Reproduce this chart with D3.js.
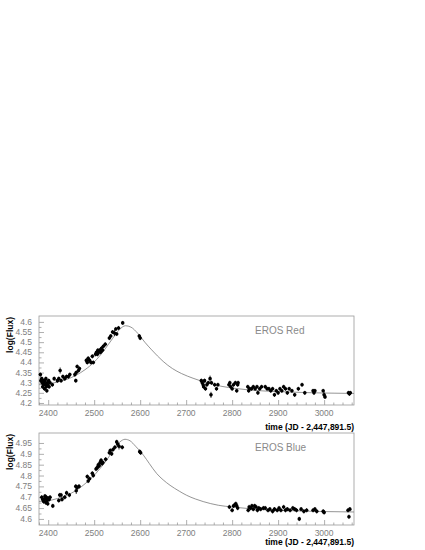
<!DOCTYPE html>
<html>
<head>
<meta charset="utf-8">
<script src="https://cdn.jsdelivr.net/npm/d3@7"></script>
<style>
  body { margin: 0; background: #fff; }
  svg { display: block; font-family: "Liberation Sans", Arial, sans-serif; }
</style>
</head>
<body>
<script>
const w = 425;
const h = 550;

// ---- data ----
const redTime = [2383,2384,2386,2387,2388,2389,2390,2391,2392,2393,2394,2395,2396,2397,2398,2399,2401,2402,2404,2409,2413,
  2420,2423,2426,2428,2432,2436,2440,2444,2447,2458,2460,2461,2463,2466,2468,
  2483,2485,2487,2490,2493,2496,2498,2503,2505,2507,2508,2510,2512,2514,2516,2518,2520,2524,
  2533,2536,2540,2544,2547,2549,2553,2562,2598,2600,
  2733,2735,2737,2738,2740,2742,2745,2748,2752,2754,2755,2762,2766,2769,
  2793,2795,2797,2800,2803,2807,2810,2812,2813,
  2834,2836,2838,2842,2846,2850,2854,2856,2860,2864,2872,2876,2880,2884,2888,2892,2896,2900,2904,2908,2912,2916,2920,2924,2930,2936,2944,2952,2958,
  2976,2978,2980,2998,3000,3002,3053,3055,3057];
const redFlux = [4.34,4.31,4.32,4.30,4.28,4.31,4.29,4.30,4.27,4.31,4.29,4.32,4.28,4.26,4.30,4.29,4.31,4.28,4.30,4.29,4.32,
  4.31,4.32,4.36,4.31,4.33,4.32,4.33,4.33,4.34,4.34,4.31,4.35,4.38,4.36,4.37,
  4.41,4.40,4.42,4.41,4.40,4.43,4.40,4.44,4.45,4.44,4.46,4.45,4.46,4.45,4.47,4.46,4.48,4.49,
  4.52,4.53,4.55,4.545,4.565,4.54,4.57,4.595,4.53,4.52,
  4.31,4.30,4.29,4.28,4.31,4.27,4.29,4.30,4.32,4.24,4.30,4.29,4.27,4.29,
  4.29,4.30,4.28,4.27,4.29,4.30,4.26,4.29,4.30,
  4.28,4.26,4.27,4.27,4.28,4.27,4.28,4.25,4.27,4.28,4.28,4.27,4.27,4.26,4.27,4.24,4.26,4.25,4.27,4.26,4.28,4.27,4.25,4.27,4.26,4.24,4.27,4.29,4.25,
  4.26,4.25,4.26,4.26,4.24,4.23,4.25,4.245,4.25];
const redErr = [0.01,0.01,0.01,0.01,0.01,0.01,0.01,0.01,0.01,0.01,0.015,0.01,0.01,0.01,0.01,0.01,0.01,0.01,0.01,0.01,0.01,
  0.01,0.01,0.015,0.01,0.01,0.01,0.01,0.01,0.01,0.01,0.01,0.01,0.01,0.01,0.01,
  0.01,0.01,0.01,0.01,0.01,0.01,0.01,0.01,0.01,0.01,0.01,0.01,0.01,0.01,0.01,0.01,0.01,0.01,
  0.01,0.01,0.01,0.015,0.01,0.01,0.01,0.01,0.01,0.01,
  0.01,0.01,0.01,0.01,0.01,0.01,0.01,0.01,0.015,0.015,0.01,0.01,0.01,0.01,
  0.01,0.01,0.01,0.01,0.01,0.01,0.01,0.01,0.01,
  0.01,0.01,0.01,0.01,0.01,0.01,0.01,0.01,0.01,0.01,0.01,0.01,0.01,0.01,0.01,0.01,0.01,0.01,0.01,0.01,0.01,0.01,0.01,0.01,0.01,0.01,0.01,0.01,0.01,
  0.01,0.01,0.01,0.01,0.015,0.01,0.01,0.01,0.01];

const blueTime = [2386,2388,2390,2392,2393,2395,2396,2397,2398,2399,2400,2402,2404,2410,
  2423,2425,2428,2430,2436,2440,2446,2460,2461,2463,2467,
  2485,2487,2490,2496,2498,2504,2506,2508,2509,2511,2513,2515,2517,2519,2525,
  2533,2535,2538,2541,2545,2549,2551,2554,2561,2599,2601,
  2794,2800,2803,2806,2808,2810,2812,2835,2837,2840,2843,2846,2849,2852,2855,2858,2862,2868,2872,2878,2882,2888,
  2892,2898,2902,2906,2912,2916,2920,2926,2932,2936,2940,2946,2950,2956,2962,2976,2980,2984,2998,3000,3052,3054,3056];
const blueFlux = [4.70,4.69,4.68,4.69,4.705,4.675,4.70,4.68,4.69,4.67,4.695,4.69,4.70,4.66,
  4.685,4.71,4.71,4.69,4.70,4.72,4.71,4.75,4.73,4.745,4.75,
  4.795,4.775,4.785,4.81,4.80,4.83,4.835,4.84,4.85,4.845,4.86,4.87,4.855,4.86,4.875,
  4.905,4.915,4.90,4.92,4.93,4.955,4.945,4.935,4.93,4.91,4.905,
  4.655,4.64,4.66,4.665,4.67,4.66,4.65,4.64,4.655,4.65,4.66,4.645,4.66,4.655,4.64,4.65,4.645,4.65,4.65,4.64,4.645,4.635,
  4.645,4.64,4.65,4.64,4.655,4.64,4.645,4.64,4.65,4.645,4.64,4.60,4.645,4.635,4.64,4.64,4.645,4.635,4.635,4.63,4.64,4.61,4.645];
const blueErr = [0.01,0.01,0.01,0.01,0.01,0.01,0.01,0.01,0.01,0.01,0.01,0.01,0.01,0.01,
  0.01,0.01,0.01,0.01,0.01,0.01,0.01,0.01,0.015,0.01,0.01,
  0.01,0.01,0.01,0.01,0.01,0.01,0.01,0.01,0.01,0.01,0.01,0.01,0.01,0.01,0.01,
  0.01,0.01,0.01,0.01,0.01,0.01,0.01,0.015,0.01,0.01,0.01,
  0.01,0.01,0.01,0.01,0.01,0.01,0.01,0.01,0.01,0.01,0.01,0.01,0.01,0.01,0.01,0.01,0.01,0.01,0.01,0.01,0.01,0.01,
  0.01,0.01,0.01,0.01,0.01,0.01,0.01,0.01,0.01,0.01,0.01,0.01,0.01,0.01,0.01,0.01,0.01,0.01,0.01,0.01,0.01,0.01,0.01];

// fitted light curves
const redFitTime = [2380,2400,2420,2440,2460,2480,2500,2520,2540,2555,2568,2580,2595,2610,2625,2650,2670,2690,2715,2745,2775,2810,2850,2900,2950,3000,3065];
const redFitFlux = [4.290,4.294,4.303,4.316,4.336,4.364,4.402,4.455,4.518,4.562,4.581,4.574,4.543,4.500,4.462,4.405,4.370,4.345,4.322,4.300,4.283,4.271,4.262,4.256,4.252,4.249,4.247];
const blueFitTime = [2380,2397,2420,2440,2460,2476,2495,2513,2530,2541,2556,2567,2578,2590,2607,2620,2636,2650,2665,2685,2701,2720,2737,2770,2800,2839,2900,2960,3000,3065];
const blueFitFlux = [4.681,4.683,4.694,4.709,4.730,4.755,4.790,4.833,4.880,4.915,4.955,4.967,4.960,4.935,4.894,4.855,4.809,4.780,4.755,4.728,4.709,4.692,4.680,4.663,4.655,4.647,4.640,4.636,4.634,4.632];

const timeTicks = [2400, 2500, 2600, 2700, 2800, 2900, 3000];
const redTicks = [4.2, 4.25, 4.3, 4.35, 4.4, 4.45, 4.5, 4.55, 4.6];
const blueTicks = [4.6, 4.65, 4.7, 4.75, 4.8, 4.85, 4.9, 4.95];

const svg = d3.select("body")
              .append("svg")
              .attr("width", w)
              .attr("height", h);

const left = 39, right = 354;

const xScale = d3.scaleLinear()
                 .domain([2380, 3065])
                 .range([left, right]);

function panel(o) {
    const yScale = d3.scaleLinear()
                     .domain(o.yDomain)
                     .range([o.bottom, o.top]);
    const g = svg.append("g");

    // frame
    g.append("rect")
     .attr("x", left).attr("y", o.top)
     .attr("width", right - left).attr("height", o.bottom - o.top)
     .attr("fill", "none").attr("stroke", "#9a9a9a").attr("stroke-width", 0.8);

    // x ticks: major every 100, minor every 20
    const xMinor = d3.range(2380, 3066, 20).filter(t => t % 100 !== 0);
    const xAxis = d3.axisTop(xScale).tickValues(timeTicks).tickSize(5).tickFormat("");
    g.append("g").attr("transform", "translate(0," + o.bottom + ")").call(xAxis);
    g.append("g").attr("transform", "translate(0," + o.bottom + ")")
     .call(d3.axisTop(xScale).tickValues(xMinor).tickSize(2.5).tickFormat(""));

    g.selectAll(".xlab")
     .data(timeTicks)
     .enter()
     .append("text")
     .attr("x", d => xScale(d))
     .attr("y", o.bottom + 11)
     .attr("text-anchor", "middle")
     .attr("font-size", 8.5)
     .attr("fill", "#808080")
     .text(d => d);

    // y ticks
    const yMinor = o.ticks.slice(0, -1).map((t, i) => (t + o.ticks[i + 1]) / 2);
    g.append("g").attr("transform", "translate(" + left + ",0)")
     .call(d3.axisRight(yScale).tickValues(o.ticks).tickSize(5).tickFormat(""));
    g.append("g").attr("transform", "translate(" + left + ",0)")
     .call(d3.axisRight(yScale).tickValues(yMinor).tickSize(2.5).tickFormat(""));

    g.selectAll(".ylab")
     .data(o.ticks)
     .enter()
     .append("text")
     .attr("x", 32)
     .attr("y", d => yScale(d) + 3)
     .attr("text-anchor", "end")
     .attr("font-size", 8.5)
     .attr("fill", "#808080")
     .text(d => d);

    g.selectAll(".domain").remove();
    g.selectAll(".tick line").attr("stroke", "#9a9a9a").attr("stroke-width", 0.8);

    // fit curve
    const line = d3.line()
                   .x(d => xScale(d[0]))
                   .y(d => yScale(d[1]))
                   .curve(d3.curveMonotoneX);
    g.append("path")
     .datum(o.fitT.map((t, i) => [t, o.fitF[i]]))
     .attr("d", line)
     .attr("fill", "none")
     .attr("stroke", "#7a7a7a")
     .attr("stroke-width", 0.8);

    // data with error bars
    const pts = o.t.map((t, i) => ({t: t, f: o.f[i], e: o.e[i]}));
    g.selectAll(".err")
     .data(pts)
     .enter()
     .append("line")
     .attr("x1", d => xScale(d.t)).attr("x2", d => xScale(d.t))
     .attr("y1", d => yScale(d.f - d.e)).attr("y2", d => yScale(d.f + d.e))
     .attr("stroke", "#000").attr("stroke-width", 0.8);
    g.selectAll(".pt")
     .data(pts)
     .enter()
     .append("circle")
     .attr("cx", d => xScale(d.t))
     .attr("cy", d => yScale(d.f))
     .attr("r", 1.8)
     .attr("fill", "#000");

    // labels
    g.append("text")
     .attr("x", 255).attr("y", o.top + 18)
     .attr("font-size", 10)
     .attr("fill", "#8a8a8a")
     .text(o.name);

    g.append("text")
     .attr("x", right).attr("y", o.titleY)
     .attr("text-anchor", "end")
     .attr("font-size", 8.5)
     .attr("font-weight", "bold")
     .text("time (JD - 2,447,891.5)");

    g.append("text")
     .attr("transform", "translate(13," + (o.top + 1) + ") rotate(-90)")
     .attr("text-anchor", "end")
     .attr("font-size", 8.5)
     .attr("font-weight", "bold")
     .text("log(Flux)");
}

panel({top: 316, bottom: 405, titleY: 430, yDomain: [4.19, 4.629], ticks: redTicks,
       t: redTime, f: redFlux, e: redErr, fitT: redFitTime, fitF: redFitFlux, name: "EROS Red"});
panel({top: 433, bottom: 525, titleY: 545, yDomain: [4.572, 4.996], ticks: blueTicks,
       t: blueTime, f: blueFlux, e: blueErr, fitT: blueFitTime, fitF: blueFitFlux, name: "EROS Blue"});
</script>
</body>
</html>
